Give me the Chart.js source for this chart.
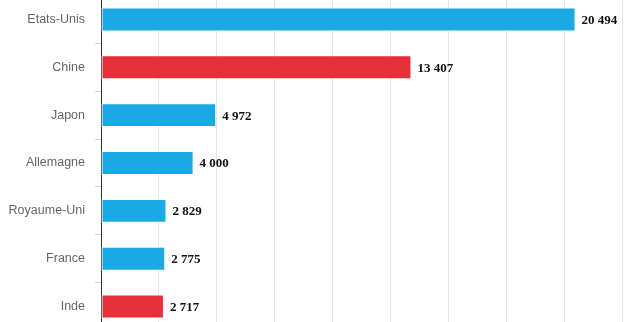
<!DOCTYPE html>
<html>
<head>
<meta charset="utf-8">
<script src="https://cdn.jsdelivr.net/npm/chart.js@4/dist/chart.umd.min.js"></script>
<style>
  html, body { margin: 0; padding: 0; background: #fff; overflow: hidden; }
  #wrap { position: absolute; left: 0; top: -22px; width: 644px; height: 370px; }
</style>
</head>
<body>
<div id="wrap"><canvas id="chart"></canvas></div>
<script>
const countries = ['Etats-Unis', 'Chine', 'Japon', 'Allemagne', 'Royaume-Uni', 'France', 'Inde']
const gdp = [20494, 13407, 4972, 4000, 2829, 2775, 2717]
const highlighted = ['Chine', 'Inde']

const BLUE = '#1ba9e5'
const RED = '#e5303a'

function fmt(v) {
    return String(v).replace(/\B(?=(\d{3})+(?!\d))/g, ' ')
}

// bold value printed just right of each bar
const valueLabels = {
    id: 'valueLabels',
    afterDatasetsDraw(chart) {
        const ctx = chart.ctx
        const meta = chart.getDatasetMeta(0)
        ctx.save()
        ctx.font = 'bold 13px "Liberation Serif", "Times New Roman", serif'
        ctx.fillStyle = '#111'
        ctx.textAlign = 'left'
        ctx.textBaseline = 'middle'
        meta.data.forEach((bar, i) => {
            ctx.fillText(fmt(gdp[i]), bar.x + 6, bar.y + 1)
        })
        ctx.restore()
    }
}

new Chart(document.getElementById('chart'), {
    type: 'bar',
    data: {
        labels: countries,
        datasets: [{
            data: gdp,
            backgroundColor: countries.map(c => highlighted.includes(c) ? RED : BLUE),
            borderColor: '#ffffff',
            borderWidth: 1,
            borderSkipped: false,
            categoryPercentage: 1,
            barPercentage: 0.5
        }]
    },
    options: {
        indexAxis: 'y',
        responsive: true,
        maintainAspectRatio: false,
        animation: false,
        layout: { padding: { left: 0, right: 22, top: 0, bottom: 0 } },
        plugins: {
            legend: { display: false },
            tooltip: { enabled: false }
        },
        scales: {
            x: {
                min: 0,
                max: 22500,
                ticks: { display: false, stepSize: 2500 },
                grid: { color: '#e4e4e4', drawTicks: false },
                border: { display: false }
            },
            y: {
                afterFit(scale) { scale.width = 101 },
                ticks: {
                    color: '#666',
                    padding: 10,
                    font: { family: '"Liberation Sans", Arial, sans-serif', size: 12.5 }
                },
                grid: {
                    drawOnChartArea: false,
                    drawTicks: true,
                    tickLength: 6,
                    color: '#c3d3e6'
                },
                border: { display: true, color: '#333', width: 1 }
            }
        }
    },
    plugins: [valueLabels]
})
</script>
</body>
</html>
